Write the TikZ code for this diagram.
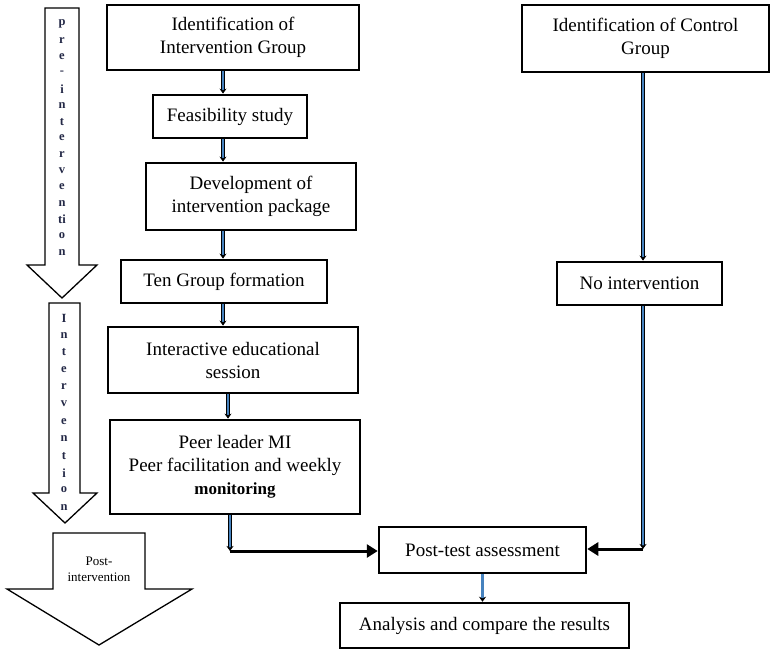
\documentclass[tikz,border=0pt]{standalone}
\usepackage{fontspec}
\setmainfont{Liberation Serif}
\usetikzlibrary{arrows.meta}

\definecolor{arrowblue}{RGB}{70,130,190}
\definecolor{letterblue}{RGB}{35,40,70}

\tikzstyle{stepBox} = [rectangle, draw=black, line width=2.8pt, align=center, inner sep=2pt, font=\fontsize{19}{23}\selectfont]
\tikzstyle{blueArrow} = [draw=black, line width=0.7pt, double=arrowblue, double distance=2.2pt, -{Stealth[length=5pt,width=7pt]}]
\tikzstyle{blackArrow} = [line width=3pt, -{Triangle[length=11pt,width=13pt]}]
\tikzstyle{phaseArrow} = [draw=black, line width=1.3pt, fill=white, line join=miter]
\tikzstyle{letter} = [inner sep=0pt, text=letterblue, font=\fontsize{12.5}{12.5}\selectfont\bfseries]

\begin{document}
\begin{tikzpicture}[x=1pt, y=-1pt]
    \useasboundingbox (0,0) rectangle (775,653);

    % phase arrows on the left
    \draw [phaseArrow] (45,8) -- (79,8) -- (79,265) -- (97,265) -- (62,298) -- (27,265) -- (45,265) -- cycle;
    \draw [phaseArrow] (49,303) -- (80,303) -- (80,493) -- (97,493) -- (65,523) -- (33,493) -- (49,493) -- cycle;
    \draw [phaseArrow] (53,533) -- (145,533) -- (145,589) -- (192,589) -- (99,645) -- (7,589) -- (53,589) -- cycle;

    \foreach \l [count=\i] in {p,r,e,-,i,n,t,e,r,v,e,n,ti,o,n}
        \node (pre\i)[letter] at (62, {24+16.3*(\i-1)}) {\l};
    \foreach \l [count=\i] in {I,n,t,e,r,v,e,n,t,i,o,n}
        \node (int\i)[letter] at (64, {318+17.2*(\i-1)}) {\l};
    \node (post)[align=center, inner sep=0pt, font=\fontsize{13}{16}\selectfont] at (99,569) {Post-\\intervention};

    % intervention group
    \node (idInt)[stepBox, minimum width=252pt, minimum height=65pt] at (233,37.5) {Identification of\\Intervention Group};
    \node (feas)[stepBox, minimum width=154pt, minimum height=43pt] at (230,116.5) {Feasibility study};
    \node (dev)[stepBox, minimum width=210pt, minimum height=67pt] at (251,196.5) {Development of\\intervention package};
    \node (ten)[stepBox, minimum width=206pt, minimum height=43pt] at (224,281.5) {Ten Group formation};
    \node (inter)[stepBox, minimum width=250pt, minimum height=66pt] at (233,360) {Interactive educational\\session};
    \node (peer)[stepBox, minimum width=250pt, minimum height=94pt] at (235,467) {Peer leader MI\\Peer facilitation and weekly\\{\fontsize{17}{21}\selectfont\bfseries monitoring}};

    % control group
    \node (ctrl)[stepBox, minimum width=247pt, minimum height=67pt] at (645.5,38.5) {Identification of Control\\Group};
    \node (noInt)[stepBox, minimum width=165pt, minimum height=43pt] at (639.5,283.5) {No intervention};

    % outcome
    \node (postTest)[stepBox, line width=2.5pt, minimum width=207pt, minimum height=46pt] at (482.5,550) {Post-test assessment};
    \node (analysis)[stepBox, line width=2.5pt, minimum width=289pt, minimum height=45pt] at (484.5,625.5) {Analysis and compare the results};

    \coordinate (spine) at (223,0);
    \coordinate (leftJoin) at (230,551);
    \coordinate (rightJoin) at (643,549);

    \draw [blueArrow] (idInt.south -| spine) -- (feas.north -| spine);
    \draw [blueArrow] (feas.south -| spine) -- (dev.north -| spine);
    \draw [blueArrow] (dev.south -| spine) -- (ten.north -| spine);
    \draw [blueArrow] (ten.south -| spine) -- (inter.north -| spine);
    \draw [blueArrow] ([xshift=-5pt]inter.south) -- ([xshift=-5pt]inter.south |- peer.north);
    \draw [blueArrow] (peer.south -| leftJoin) -- (leftJoin);
    \draw [blackArrow] (leftJoin) -- (postTest.west |- leftJoin);
    \draw [blueArrow] (ctrl.south -| rightJoin) -- (noInt.north -| rightJoin);
    \draw [blueArrow] (noInt.south -| rightJoin) -- (rightJoin);
    \draw [blackArrow] (rightJoin) -- (postTest.east |- rightJoin);
    \draw [blueArrow] (postTest.south) -- (postTest.south |- analysis.north);

  \end{tikzpicture}
\end{document}
